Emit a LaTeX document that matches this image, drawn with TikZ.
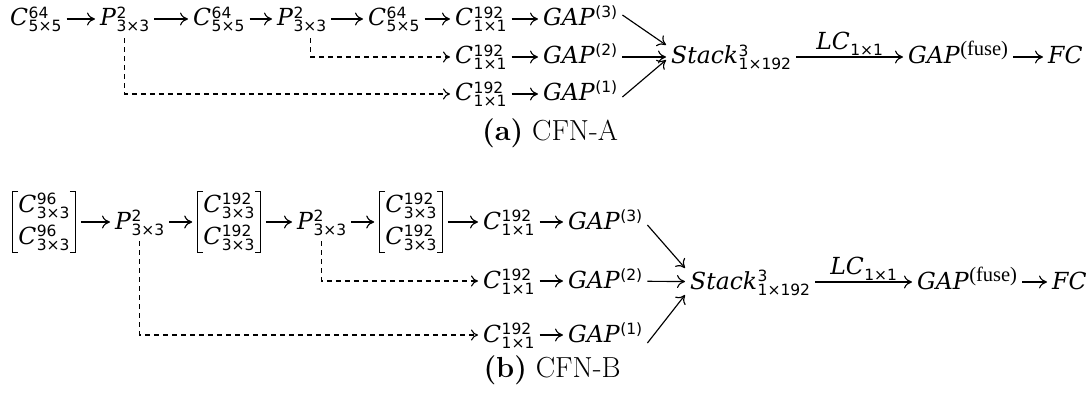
\documentclass[tikz,border=0pt]{standalone}
\usepackage{fontspec}
\usetikzlibrary{arrows.meta,calc}
\newfontfamily\lfam{DejaVu Serif}
\newfontfamily\sfam{DejaVu Sans}
\newfontfamily\tfam{Liberation Serif}
\newcommand\Ml[1]{\hbox{\fontsize{23.5}{23.5}\selectfont\lfam\itshape #1}}
\newcommand\Ms[1]{\hbox{\fontsize{15.5}{15.5}\selectfont\sfam #1}}
\newcommand\Sy[3]{\Ml{#1}\kern0.5pt\rlap{\raisebox{7.5pt}{\Ms{#2}}}\raisebox{-6pt}{\Ms{#3}}}
\newcommand\Sp[2]{\Ml{#1}\kern0.5pt\raisebox{8pt}{\Ms{#2}}}
\newcommand\Sb[2]{\Ml{#1}\kern0.5pt\raisebox{-6pt}{\Ms{#2}}}
\begin{document}
\begin{tikzpicture}[x=1pt,y=-1pt,
  lbl/.style={inner xsep=5pt,inner ysep=0pt,text height=20pt,text depth=6pt,anchor=west},
  brk/.style={inner xsep=6pt,inner ysep=0pt,minimum height=60pt,align=center,
     font=\fontsize{23}{32}\selectfont},
  captxt/.style={font=\fontsize{29}{32}\selectfont,inner sep=0pt},
  arr/.style={line width=1.15pt,-{Computer Modern Rightarrow[length=8pt,width=13pt]}},
  dsh/.style={line width=1.1pt,dash pattern=on 5pt off 4pt,-{Computer Modern Rightarrow[length=7pt,width=11pt]}},
  bline/.style={line width=1.1pt}]
\useasboundingbox (0,0) rectangle (1086,398);
% ---------- (a) ----------
\node[lbl] (ca1) at (5,19) {\Sy{C}{64}{5×5}};
\node[lbl] (pa1) at (95,19) {\Sy{P}{2}{3×3}};
\node[lbl] (ca2) at (188,19) {\Sy{C}{64}{5×5}};
\node[lbl] (pa2) at (272,19) {\Sy{P}{2}{3×3}};
\node[lbl] (ca3) at (363,19) {\Sy{C}{64}{5×5}};
\node[lbl] (ka3) at (450,19) {\Sy{C}{192}{1×1}};
\node[lbl] (ka2) at (450,57) {\Sy{C}{192}{1×1}};
\node[lbl] (ka1) at (450,94) {\Sy{C}{192}{1×1}};
\node[lbl] (ga3) at (538,19) {\Sp{GAP}{(3)}};
\node[lbl] (ga2) at (538,57) {\Sp{GAP}{(2)}};
\node[lbl] (ga1) at (538,94) {\Sp{GAP}{(1)}};
\node[lbl] (sta) at (666,57) {\Sy{Stack}{3}{1×192}};
\node[lbl] (gfa) at (903,57) {\Ml{GAP}\kern0.5pt\raisebox{8pt}{\hbox{\fontsize{20.5}{20.5}\selectfont\tfam (fuse)}}};
\node[lbl] (fca) at (1043,57) {\Ml{FC}};
\draw[arr] (ca1) -- (pa1);
\draw[arr] (pa1) -- (ca2);
\draw[arr] (ca2) -- (pa2);
\draw[arr] (pa2) -- (ca3);
\draw[arr] (ca3) -- (ka3);
\draw[arr] (ka3) -- (ga3);
\draw[arr] (ka2) -- (ga2);
\draw[arr] (ka1) -- (ga1);
\draw[arr] ([yshift=4pt]ga3.east) -- ([yshift=12pt]sta.west);
\draw[arr] (ga2) -- (sta);
\draw[arr] ([yshift=-3pt]ga1.east) -- ([yshift=-3pt]sta.west);
\draw[arr] (sta) -- node[above=1pt,inner sep=0pt] (lca) {\Sb{LC}{1×1}} (gfa);
\draw[arr] (gfa) -- (fca);
\draw[dsh] ([yshift=-6pt]pa1.south) |- (ka1);
\draw[dsh] ([xshift=9pt,yshift=-6pt]pa2.south) |- (ka2);
\node[captxt] (capa) at (550,133) {\textbf{(a)}\ CFN-A};
% ---------- (b) ----------
\node[brk] (bb1) at (44,222) {\Sy{C}{96}{3×3}\\\Sy{C}{96}{3×3}};
\node[lbl] (pb1) at (110,222) {\Sy{P}{2}{3×3}};
\node[brk] (bb2) at (229,222) {\Sy{C}{192}{3×3}\\\Sy{C}{192}{3×3}};
\node[lbl] (pb2) at (292,222) {\Sy{P}{2}{3×3}};
\node[brk] (bb3) at (411,222) {\Sy{C}{192}{3×3}\\\Sy{C}{192}{3×3}};
\node[lbl] (kb3) at (478,222) {\Sy{C}{192}{1×1}};
\node[lbl] (kb2) at (478,281) {\Sy{C}{192}{1×1}};
\node[lbl] (kb1) at (478,335) {\Sy{C}{192}{1×1}};
\node[lbl] (gb3) at (563,222) {\Sp{GAP}{(3)}};
\node[lbl] (gb2) at (563,281) {\Sp{GAP}{(2)}};
\node[lbl] (gb1) at (563,335) {\Sp{GAP}{(1)}};
\node[lbl] (stb) at (685,282) {\Sy{Stack}{3}{1×192}};
\node[lbl] (gfb) at (912,282) {\Ml{GAP}\kern0.5pt\raisebox{8pt}{\hbox{\fontsize{20.5}{20.5}\selectfont\tfam (fuse)}}};
\node[lbl] (fcb) at (1047,282) {\Ml{FC}};
\foreach \n in {bb1,bb2,bb3}{
  \draw[bline] ([xshift=6pt]\n.north west) -- (\n.north west) -- (\n.south west) -- ([xshift=6pt]\n.south west);
  \draw[bline] ([xshift=-6pt]\n.north east) -- (\n.north east) -- (\n.south east) -- ([xshift=-6pt]\n.south east);
}
\draw[arr,shorten <=5pt] (bb1) -- (pb1);
\draw[arr,shorten >=5pt] (pb1) -- (bb2);
\draw[arr,shorten <=5pt] (bb2) -- (pb2);
\draw[arr,shorten >=5pt] (pb2) -- (bb3);
\draw[arr,shorten <=5pt] (bb3) -- (kb3);
\draw[arr] (kb3) -- (gb3);
\draw[arr] (kb2) -- (gb2);
\draw[arr] (kb1) -- (gb1);
\draw[arr] ([yshift=-3pt]gb3.east) -- ([yshift=14pt]stb.west);
\draw[arr] (gb2) -- (stb);
\draw[arr] ([yshift=-8pt]gb1.east) -- ([yshift=-13pt]stb.west);
\draw[arr] (stb) -- node[above=1pt,inner sep=0pt] (lcb) {\Sb{LC}{1×1}} (gfb);
\draw[arr] (gfb) -- (fcb);
\draw[dsh] ([yshift=-6pt]pb1.south) |- (kb1);
\draw[dsh] ([yshift=-6pt]pb2.south) |- (kb2);
\node[captxt] (capb) at (552,370) {\textbf{(b)}\ CFN-B};
\end{tikzpicture}
\end{document}
